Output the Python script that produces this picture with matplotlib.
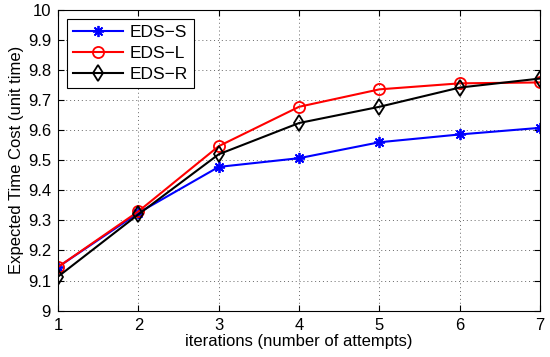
import matplotlib
matplotlib.use("Agg")
import matplotlib.pyplot as plt

plt.rcParams['font.family'] = ['Liberation Sans', 'DejaVu Sans']

iterations = [1, 2, 3, 4, 5, 6, 7]
eds_s = [9.145, 9.325, 9.478, 9.507, 9.560, 9.586, 9.608]
eds_l = [9.145, 9.330, 9.547, 9.678, 9.736, 9.756, 9.759]
eds_r = [9.113, 9.320, 9.520, 9.624, 9.678, 9.742, 9.772]
yticks = [9, 9.1, 9.2, 9.3, 9.4, 9.5, 9.6, 9.7, 9.8, 9.9, 10]
ytick_labels = ['9', '9.1', '9.2', '9.3', '9.4', '9.5', '9.6', '9.7', '9.8', '9.9', '10']

fig = plt.figure(figsize=(5.5, 3.57), dpi=100)
ax = fig.add_axes([0.1055, 0.130, 0.8765, 0.842])

ax.plot(iterations, eds_s, color='blue', marker=(8, 2, 0), markersize=8, mew=1.3, lw=1.5, label='EDS\u2212S')
ax.plot(iterations, eds_l, color='red', marker='o', markersize=8, markerfacecolor='none', mew=1.3, lw=1.5, label='EDS\u2212L')
ax.plot(iterations, eds_r, color='black', marker='d', markersize=8.5, markerfacecolor='none', mew=1.3, lw=1.5, label='EDS\u2212R')

ax.set_xlim(1, 7)
ax.set_ylim(9, 10)
ax.set_xticks(iterations)
ax.set_yticks(yticks)
ax.set_yticklabels(ytick_labels)
ax.tick_params(direction='in', labelsize=12, top=True, right=True, length=4, pad=5)
ax.grid(True, linestyle=(0, (1, 3)), color='#666666', lw=0.7)
ax.set_xlabel('iterations (number of attempts)', fontsize=12, labelpad=1)
ax.set_ylabel('Expected Time Cost (unit time)', fontsize=12, labelpad=3)

leg = ax.legend(loc='upper left', fontsize=12.5, fancybox=False, edgecolor='black',
                handlelength=2.9, handletextpad=0.35, borderpad=0.35, labelspacing=0.35,
                framealpha=1, borderaxespad=0.5)
leg.get_frame().set_linewidth(0.8)

fig.savefig('out.png', dpi=100)
